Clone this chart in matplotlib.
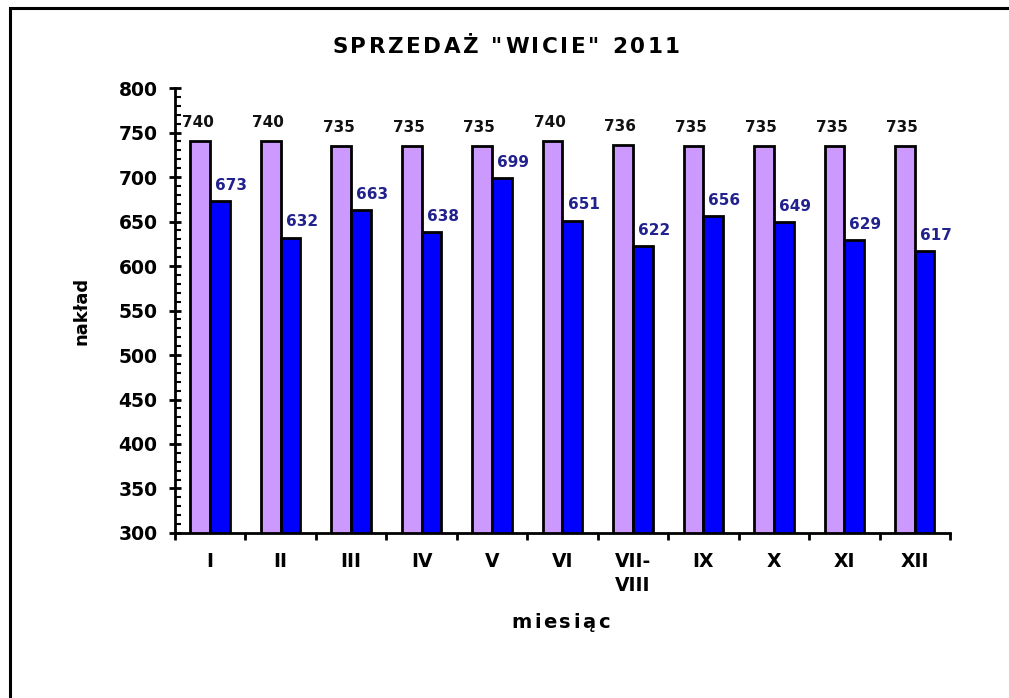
import matplotlib.pyplot as plt
import numpy as np
from matplotlib.patches import Rectangle
from matplotlib.ticker import MultipleLocator

months = ["I", "II", "III", "IV", "V", "VI", "VII-\nVIII", "IX", "X", "XI", "XII"]
naklad = [740, 740, 735, 735, 735, 740, 736, 735, 735, 735, 735]
sprzedaz = [673, 632, 663, 638, 699, 651, 622, 656, 649, 629, 617]

plt.rcParams['font.family'] = ['DejaVu Sans']
plt.rcParams['font.weight'] = 'bold'


def spaced_text(fig, xc, y, s, gap, **kw):
    """draw text centred at xc (figure fraction) with extra letter spacing in px"""
    r = fig.canvas.get_renderer()
    W = fig.bbox.width
    ref = fig.text(0, 0, "xx", **kw)
    w0 = ref.get_window_extent(r).width
    ref.remove()
    widths = []
    for ch in s:
        t = fig.text(0, 0, "x" + ch + "x", **kw)
        widths.append(t.get_window_extent(r).width - w0)
        t.remove()
    total = sum(widths) + gap * (len(s) - 1)
    xpos = xc * W - total / 2
    for ch, w in zip(s, widths):
        fig.text(xpos / W, y, ch, ha="left", va="baseline", **kw)
        xpos += w + gap


fig = plt.figure(figsize=(10.09, 6.98), dpi=100)
ax = fig.add_axes([0.1734, 0.2364, 0.9415 - 0.1734, 0.8739 - 0.2364])

x = np.arange(len(months))
w = 0.28
b1 = ax.bar(x - w / 2, naklad, w, color="#CC99FF", edgecolor="black", linewidth=2)
b2 = ax.bar(x + w / 2, sprzedaz, w, color="#0000FF", edgecolor="black", linewidth=2)

for rect, v in zip(b1, naklad):
    ax.annotate(str(v), (rect.get_x() + rect.get_width() / 2, v), xytext=(-2, 8),
                textcoords="offset points", ha="center", va="bottom",
                fontsize=11, fontweight="bold", color="#111111")
for rect, v in zip(b2, sprzedaz):
    ax.annotate(str(v), (rect.get_x() + rect.get_width() / 2, v), xytext=(8, 6),
                textcoords="offset points", ha="center", va="bottom",
                fontsize=11, fontweight="bold", color="#22228F")

ax.set_xlim(-0.5, len(months) - 0.5)
ax.set_ylim(300, 800)

# y axis
ax.yaxis.set_major_locator(MultipleLocator(50))
ax.yaxis.set_minor_locator(MultipleLocator(10))
ax.tick_params(axis="y", which="major", direction="inout", length=9, width=2, labelsize=13.5, pad=8)
ax.tick_params(axis="y", which="minor", direction="in", length=4, width=1.5)

# x axis: labels at centres, ticks between categories
ax.set_xticks(x)
ax.set_xticklabels(months, fontsize=13.5, fontweight="bold", linespacing=1.3)
ax.set_xticks(np.arange(len(months) + 1) - 0.5, minor=True)
ax.tick_params(axis="x", which="major", length=0, pad=14)
ax.tick_params(axis="x", which="minor", direction="out", length=5, width=2)

for s in ["top", "right"]:
    ax.spines[s].set_visible(False)
for s in ["left", "bottom"]:
    ax.spines[s].set_linewidth(2)

ax.set_ylabel("nakład", fontsize=13, fontweight="bold", labelpad=20)

spaced_text(fig, 0.5015, 1 - 53 / 698, 'SPRZEDAŻ "WICIE" 2011', 2.6, fontsize=15.5, fontweight="bold")
spaced_text(fig, 0.5555, 1 - 628 / 698, "miesiąc", 2.5, fontsize=14, fontweight="bold")

# outer chart border
fig.add_artist(Rectangle((0.0099, -0.1), 1.2, 0.9885 + 0.1, transform=fig.transFigure,
                         fill=False, edgecolor="black", linewidth=2.2))

fig.savefig("out.png", dpi=100)
